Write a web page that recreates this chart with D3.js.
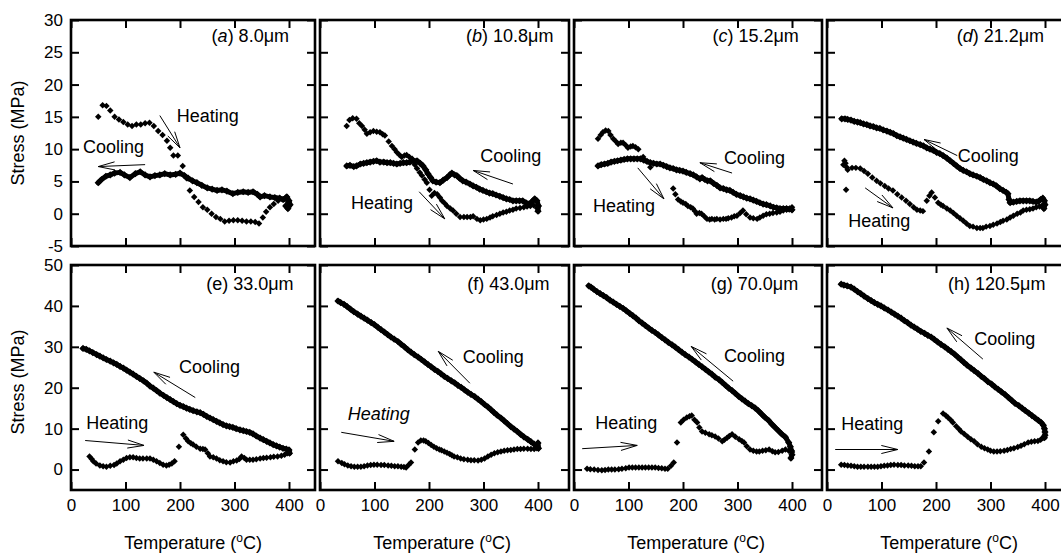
<!DOCTYPE html>
<html><head><meta charset="utf-8">
<script src="https://cdn.jsdelivr.net/npm/d3@7"></script>
<style>body{margin:0;background:#fff;}svg{display:block;font-family:"Liberation Sans",Arial,Helvetica,sans-serif;}</style>
</head><body><svg id="chart" width="1061" height="553"></svg>
<script>
// ---------------- DATA ----------------
const panelLetters = ["a","b","c","d","e","f","g","h"];
const panelThickness = ["8.0","10.8","15.2","21.2","33.0","43.0","70.0","120.5"];
const tempTicks = [0,100,200,300,400];
const stressTicksTop = [-5,0,5,10,15,20,25,30];
const stressTicksBottom = [0,10,20,30,40,50];

// [temperature °C, stress MPa]
const heatA = [[50,15.0],[58,16.8],[65,16.7],[72,16.0],[80,15.0],[88,14.6],[96,14.2],[104,13.8],[112,13.6],[120,13.8],[128,13.8],[136,14.0],[144,14.1],[152,13.6],[160,12.8],[168,12.2],[176,11.3],[182,10.2],[188,9.0],[196,9.0],[205,7.4],[212,5.5],[218,3.6],[226,2.6],[234,1.8],[242,1.0],[250,0.6],[258,0.0],[266,-0.5],[274,-0.8],[282,-1.2],[290,-1.1],[298,-1.0],[306,-1.0],[314,-1.1],[322,-1.2],[330,-1.2],[338,-1.3],[345,-1.5],[352,-0.6],[358,0.3],[365,1.0],[372,1.5],[380,2.0],[388,2.2],[394,2.5],[398,1.8],[400,1.2]];
const coolA = [[50,4.8],[56,5.3],[64,5.8],[72,6.0],[80,6.3],[90,6.4],[98,6.0],[108,5.6],[118,6.2],[127,6.5],[136,6.0],[145,5.7],[154,5.9],[163,6.0],[172,6.2],[182,6.0],[192,6.1],[200,6.3],[208,5.9],[215,5.5],[223,5.1],[231,4.8],[240,4.4],[250,4.0],[259,3.8],[268,3.6],[277,3.7],[286,3.5],[297,3.1],[306,3.3],[316,3.4],[325,3.3],[334,3.4],[342,3.0],[347,2.6],[355,2.8],[365,2.6],[374,2.5],[383,2.4],[390,2.2],[396,2.6],[400,2.0],[402,1.4],[398,0.8],[394,1.2]];

const heatB = [[49,13.6],[54,14.5],[60,14.8],[67,14.7],[72,14.0],[77,13.6],[82,13.0],[86,12.4],[92,12.6],[98,12.8],[104,12.7],[110,12.6],[115,12.3],[119,12.1],[126,11.2],[132,10.5],[137,10.0],[141,9.5],[146,9.1],[150,8.8],[155,9.0],[159,9.1],[164,8.8],[169,8.5],[174,7.6],[178,7.0],[183,6.4],[187,5.9],[192,5.3],[196,4.8],[201,3.7],[205,2.8],[210,3.2],[215,3.0],[220,2.5],[224,2.0],[229,1.6],[233,1.2],[239,0.8],[244,0.5],[250,0.0],[257,-0.5],[264,-0.5],[270,-0.5],[276,-0.5],[281,-0.4],[288,-0.8],[294,-1.0],[300,-0.9],[306,-0.8],[312,-0.6],[317,-0.4],[324,-0.2],[330,0.0],[336,0.2],[342,0.3],[348,0.5],[354,0.6],[360,0.8],[367,0.9],[374,1.0],[380,1.1],[386,1.2],[392,1.3],[398,0.9],[400,0.4]];
const coolB = [[49,7.4],[55,7.5],[62,7.3],[67,7.4],[74,7.7],[80,7.8],[86,7.9],[92,8.0],[98,8.1],[104,8.2],[110,8.0],[117,8.0],[123,7.9],[129,7.9],[135,7.8],[141,7.7],[147,7.8],[153,7.9],[159,7.9],[165,8.0],[171,8.2],[178,8.2],[184,7.8],[189,7.4],[194,6.8],[198,6.2],[203,5.6],[207,5.1],[213,4.9],[220,4.8],[226,5.2],[233,5.6],[238,6.0],[242,6.3],[247,6.0],[251,5.9],[256,5.5],[262,5.1],[268,4.9],[275,4.6],[281,4.3],[287,4.1],[293,3.8],[299,3.6],[305,3.4],[311,3.2],[317,3.1],[323,2.9],[330,2.7],[336,2.5],[342,2.3],[348,2.2],[354,2.0],[360,2.0],[366,2.0],[372,2.0],[378,1.7],[382,1.5],[388,1.8],[394,2.3],[398,2.0],[401,1.2],[400,0.4]];

const heatC = [[44,11.6],[49,12.2],[53,12.6],[58,12.9],[63,12.8],[67,12.2],[72,11.6],[77,11.2],[81,10.8],[86,11.0],[90,11.0],[95,10.6],[99,10.2],[104,10.4],[108,10.5],[113,10.3],[118,10.0],[127,8.8],[140,7.2],[182,3.9],[186,3.0],[191,2.2],[196,1.9],[200,1.7],[205,1.5],[209,1.2],[214,1.0],[218,0.8],[222,0.4],[225,0.0],[230,0.1],[234,0.0],[239,-0.4],[244,-0.8],[249,-0.9],[253,-0.8],[258,-0.9],[262,-0.8],[268,-0.9],[274,-0.8],[279,-0.8],[283,-0.7],[289,-0.6],[294,-0.4],[299,-0.3],[305,0.1],[310,0.5],[316,-0.1],[323,-0.6],[329,-0.7],[336,-0.8],[341,-0.6],[347,-0.3],[353,-0.1],[359,0.0],[365,0.1],[372,0.2],[378,0.3],[384,0.5],[390,0.6],[396,0.8],[400,1.0]];
const coolC = [[44,7.4],[50,7.6],[56,7.7],[62,7.8],[68,8.0],[74,8.1],[80,8.2],[86,8.3],[92,8.4],[98,8.5],[104,8.5],[110,8.5],[116,8.5],[122,8.5],[128,8.3],[134,8.1],[140,7.9],[146,7.8],[152,7.7],[158,7.7],[164,7.5],[170,7.3],[176,7.1],[182,7.0],[188,6.8],[194,6.7],[200,6.6],[206,6.4],[213,6.2],[219,6.0],[225,5.7],[231,5.4],[235,5.6],[240,5.3],[245,5.1],[250,5.1],[256,4.7],[262,4.4],[268,4.0],[274,3.9],[280,3.7],[286,3.6],[292,3.3],[298,3.0],[305,2.8],[311,2.6],[317,2.4],[323,2.3],[329,2.1],[335,1.9],[341,1.7],[347,1.5],[353,1.4],[360,1.2],[366,1.0],[372,0.9],[378,0.8],[384,0.8],[390,0.8],[395,0.7],[400,0.6]];

const heatD = [[30,7.6],[32,8.2],[34,7.8],[36,7.2],[38,6.8],[35,3.7],[46,7.1],[53,7.1],[61,7.0],[68,6.6],[75,6.2],[83,5.6],[91,5.1],[98,4.7],[106,4.3],[113,3.9],[121,3.6],[129,3.0],[137,2.5],[145,2.0],[152,1.5],[159,1.0],[165,0.6],[171,0.5],[176,0.4],[183,2.0],[188,2.8],[192,3.3],[198,2.5],[204,1.7],[209,1.4],[213,1.2],[220,0.8],[226,0.5],[232,0.1],[238,-0.3],[244,-0.7],[250,-1.1],[256,-1.5],[262,-1.9],[268,-2.0],[275,-2.2],[281,-2.2],[286,-2.2],[292,-2.0],[299,-1.9],[305,-1.7],[312,-1.5],[318,-1.3],[323,-1.1],[330,-0.9],[336,-0.6],[342,-0.3],[349,0.0],[355,0.2],[360,0.5],[366,0.6],[372,0.7],[378,0.8],[384,1.0],[390,1.1],[394,1.2],[398,1.4]];
const coolD = [[27,14.7],[33,14.7],[38,14.6],[44,14.5],[50,14.3],[56,14.2],[61,14.1],[67,13.9],[73,13.8],[79,13.6],[85,13.5],[91,13.3],[97,13.2],[103,13.0],[110,12.8],[116,12.6],[122,12.4],[128,12.1],[134,11.9],[140,11.7],[146,11.5],[152,11.3],[158,11.1],[164,10.9],[171,10.7],[177,10.5],[183,10.2],[189,10.0],[195,9.8],[201,9.5],[207,9.3],[213,9.0],[220,8.6],[226,8.2],[232,7.8],[238,7.4],[244,7.0],[250,6.7],[256,6.5],[262,6.2],[268,6.0],[275,5.8],[281,5.6],[287,5.3],[293,5.1],[299,4.8],[305,4.6],[311,4.3],[317,3.9],[323,3.6],[329,3.3],[332,3.1],[334,2.2],[336,1.7],[342,1.8],[348,1.9],[354,2.0],[360,2.0],[366,2.0],[372,2.0],[378,1.9],[384,1.8],[388,1.9],[392,2.2],[396,2.4],[399,2.0],[400,1.4],[398,0.8]];

const heatE = [[34,3.2],[38,2.6],[41,2.0],[46,1.5],[53,1.0],[59,0.8],[65,0.7],[72,0.9],[79,1.1],[84,1.5],[90,2.0],[96,2.4],[102,2.8],[108,3.0],[114,3.0],[120,2.8],[126,2.7],[132,2.7],[139,2.7],[145,2.7],[151,2.4],[157,2.0],[163,1.6],[169,1.2],[175,1.0],[180,1.2],[185,1.5],[190,2.0],[198,5.6],[206,8.5],[211,7.6],[215,6.9],[220,6.4],[224,6.1],[230,5.6],[237,5.1],[242,5.0],[246,4.9],[251,4.0],[255,3.2],[261,3.0],[267,2.7],[273,2.3],[279,2.0],[285,1.8],[292,1.7],[298,2.0],[304,2.2],[309,2.6],[313,3.2],[318,2.8],[322,2.4],[328,2.4],[334,2.4],[340,2.5],[347,2.7],[353,2.8],[359,2.9],[366,3.0],[372,3.1],[379,3.2],[386,3.4],[392,3.6],[397,4.0],[400,4.5]];
const coolE = [[22,29.6],[28,29.4],[34,29.0],[40,28.6],[47,28.1],[53,27.7],[59,27.3],[65,26.9],[72,26.5],[78,26.1],[84,25.7],[90,25.2],[96,24.8],[102,24.3],[108,23.8],[114,23.3],[120,22.8],[126,22.3],[133,21.7],[139,21.1],[145,20.4],[151,19.9],[157,19.3],[163,18.7],[170,18.1],[176,17.6],[182,17.1],[188,16.6],[194,16.1],[200,15.7],[206,15.4],[212,15.0],[218,14.7],[224,14.4],[231,14.1],[237,13.9],[243,13.5],[249,13.0],[255,12.6],[261,12.2],[267,11.8],[273,11.4],[279,11.0],[285,10.7],[291,10.5],[297,10.3],[303,10.0],[310,9.7],[316,9.5],[322,9.3],[328,9.1],[334,8.7],[340,8.2],[347,7.7],[353,7.3],[359,6.9],[365,6.5],[371,6.1],[377,5.8],[383,5.5],[389,5.2],[395,5.0],[400,4.8],[401,4.0]];

const heatF = [[33,2.0],[40,1.6],[45,1.3],[51,1.0],[57,0.8],[63,0.7],[69,0.7],[75,0.7],[81,0.8],[87,1.0],[93,1.1],[99,1.2],[105,1.2],[112,1.1],[118,1.1],[125,1.0],[131,0.9],[137,0.8],[143,0.8],[149,0.7],[154,0.6],[158,0.5],[163,1.2],[167,1.7],[174,4.9],[180,6.6],[185,7.1],[190,7.1],[194,6.9],[199,6.5],[204,6.0],[209,5.6],[214,5.2],[219,4.9],[223,4.7],[228,4.4],[233,4.1],[238,3.8],[242,3.5],[246,3.2],[252,3.0],[258,2.7],[264,2.5],[271,2.4],[277,2.3],[283,2.3],[290,2.2],[296,2.4],[302,2.7],[308,3.2],[314,3.6],[320,4.0],[326,4.2],[332,4.4],[338,4.6],[344,4.7],[350,4.8],[356,4.9],[362,5.0],[368,5.0],[374,5.1],[381,5.1],[387,5.0],[393,5.0],[398,5.2]];
const coolF = [[33,41.2],[38,40.8],[44,40.4],[50,39.8],[56,39.2],[62,38.6],[69,38.0],[75,37.5],[81,37.0],[87,36.5],[94,35.9],[100,35.4],[106,34.8],[112,34.2],[118,33.6],[124,33.0],[130,32.4],[136,31.9],[143,31.3],[149,30.6],[155,30.0],[161,29.3],[167,28.7],[173,28.1],[180,27.5],[186,26.9],[192,26.3],[198,25.7],[204,25.1],[210,24.5],[216,24.0],[222,23.4],[228,22.8],[234,22.3],[241,21.7],[247,21.2],[253,20.6],[259,20.1],[265,19.5],[271,18.9],[277,18.4],[284,17.8],[290,17.2],[296,16.6],[302,15.9],[308,15.3],[314,14.6],[319,14.0],[325,13.3],[332,12.6],[338,11.9],[344,11.2],[350,10.5],[356,9.9],[362,9.3],[368,8.6],[374,8.0],[381,7.4],[387,6.8],[393,6.2],[398,5.8],[401,5.2],[400,6.5]];

const heatG = [[24,0.2],[30,0.1],[37,0.0],[44,-0.1],[51,-0.2],[57,-0.1],[63,0.0],[69,0.0],[75,0.0],[82,0.1],[88,0.2],[95,0.3],[101,0.5],[107,0.5],[113,0.5],[119,0.5],[125,0.5],[131,0.5],[137,0.5],[143,0.5],[149,0.5],[155,0.4],[161,0.3],[167,0.2],[172,0.2],[178,0.9],[183,1.7],[189,6.6],[196,11.5],[201,12.2],[207,12.7],[212,13.0],[216,13.2],[221,12.2],[226,11.5],[230,10.3],[235,9.3],[241,9.0],[248,8.6],[253,8.4],[259,8.1],[265,7.6],[272,6.9],[276,7.3],[281,7.8],[285,8.2],[290,8.6],[296,8.0],[303,7.4],[308,7.0],[312,6.6],[317,5.7],[323,4.9],[329,4.6],[335,4.4],[340,4.4],[346,4.6],[352,4.7],[358,4.9],[364,4.5],[369,4.2],[375,4.3],[382,4.6],[388,4.9],[394,4.6],[400,4.3]];
const coolG = [[27,44.9],[31,44.6],[36,44.1],[42,43.5],[48,43.0],[54,42.5],[60,42.0],[66,41.4],[72,40.9],[78,40.4],[84,39.9],[90,39.4],[96,38.8],[102,38.2],[108,37.6],[114,37.0],[119,36.4],[125,35.8],[131,35.2],[137,34.6],[143,34.0],[149,33.5],[155,32.9],[161,32.3],[167,31.7],[173,31.1],[180,30.5],[186,29.9],[192,29.3],[198,28.7],[204,28.1],[211,27.5],[217,26.9],[223,26.3],[229,25.7],[235,25.1],[241,24.5],[247,23.9],[253,23.3],[259,22.6],[266,22.0],[272,21.3],[278,20.6],[284,19.9],[290,19.3],[296,18.6],[302,17.9],[308,17.3],[314,16.7],[320,16.1],[326,15.6],[332,15.1],[338,14.4],[344,13.6],[350,12.8],[357,12.0],[363,11.1],[369,10.3],[375,9.5],[381,8.7],[388,7.9],[394,6.6],[397,5.6],[399,4.6],[400,3.6],[398,2.8]];

const heatH = [[26,1.2],[32,1.1],[38,1.0],[44,0.9],[50,0.8],[56,0.7],[62,0.7],[68,0.7],[75,0.7],[81,0.7],[87,0.7],[93,0.7],[99,0.8],[105,0.9],[111,1.0],[117,1.1],[123,1.2],[130,1.1],[136,1.1],[142,1.0],[149,1.0],[155,0.9],[161,0.8],[167,0.8],[172,0.8],[178,1.7],[187,4.4],[196,9.1],[204,11.8],[213,13.7],[218,13.2],[222,12.7],[227,12.1],[231,11.5],[237,10.6],[242,9.9],[246,9.3],[252,8.7],[258,8.0],[264,7.4],[270,6.9],[276,6.2],[283,5.6],[289,5.2],[295,4.9],[300,4.6],[306,4.4],[312,4.4],[318,4.5],[325,4.6],[331,4.8],[337,5.0],[343,5.2],[350,5.5],[356,5.8],[362,6.2],[369,6.6],[375,6.8],[381,6.9],[387,7.0],[392,7.3],[396,7.7],[398,8.1]];
const coolH = [[26,45.3],[31,45.1],[37,44.9],[44,44.6],[50,44.1],[56,43.5],[62,43.0],[68,42.4],[75,41.8],[81,41.3],[87,40.8],[93,40.4],[99,40.0],[105,39.5],[112,39.0],[118,38.5],[124,38.0],[130,37.5],[136,37.0],[142,36.4],[148,35.9],[154,35.3],[160,34.8],[166,34.3],[172,33.8],[179,33.3],[185,32.8],[191,32.4],[197,31.8],[203,31.2],[209,30.6],[216,30.0],[222,29.4],[228,28.8],[234,28.2],[240,27.5],[246,26.8],[251,26.2],[257,25.5],[264,24.8],[270,24.2],[277,23.5],[283,22.8],[289,22.2],[295,21.5],[302,20.9],[308,20.2],[314,19.6],[320,19.0],[327,18.3],[333,17.6],[339,16.9],[345,16.2],[352,15.6],[358,15.0],[364,14.4],[370,13.8],[376,13.2],[382,12.6],[388,12.0],[393,11.5],[397,10.8],[399,10.0],[400,9.2],[400,8.4],[399,7.8]];

const heatingSeries = [heatA,heatB,heatC,heatD,heatE,heatF,heatG,heatH];
const coolingSeries = [coolA,coolB,coolC,coolD,coolE,coolF,coolG,coolH];

// ---------------- LAYOUT / ANNOTATIONS (data units) ----------------
const lefts = [71,320,574,827];
const rights = [315,569,822,1069];
const rowSpec = [
  {top:20, bottom:246, domain:[-5,30], ticks:stressTicksTop},
  {top:265, bottom:490, domain:[-5,50], ticks:stressTicksBottom}
];
// label start temperature, stress baseline
const labelPos = [[258,26.6],[268,26.6],[254,26.6],[238,26.6],[248,43.9],[270,43.9],[251,43.9],[222,43.9]];
// annotation: text [T, S], arrow from [T,S] to [T,S]
const cooling = [
  {t:[22,9.4], a:[[136,7.6],[50,7.3]]},
  {t:[294,8.0], a:[[354,4.6],[281,6.7]]},
  {t:[275,7.7], a:[[290,6.3],[231,7.9]]},
  {t:[240,8.0], a:[[239,9.0],[178,11.5]]},
  {t:[198,23.5], a:[[228,17.6],[152,23.8]]},
  {t:[262,26.0], a:[[275,21.1],[217,28.9]]},
  {t:[275,26.2], a:[[292,21.6],[215,30.1]]},
  {t:[270,30.4], a:[[286,27.0],[220,34.6]]}
];
const heating = [
  {t:[194,14.2], a:[[163,15.2],[200,10.2]]},
  {t:[57,0.8], a:[[182,3.4],[229,-0.8]]},
  {t:[35,0.3], a:[[117,7.1],[165,2.3]]},
  {t:[39,-2.0], a:[[70,4.0],[121,0.9]]},
  {t:[28,10.0], a:[[26,7.1],[134,5.9]]},
  {t:[51,12.0], a:[[39,9.1],[136,6.9]], italic:true},
  {t:[39,10.0], a:[[15,5.1],[116,5.9]]},
  {t:[26,9.6], a:[[15,4.9],[130,4.9]]}
];

// ---------------- DRAW ----------------
const svg = d3.select("#chart");
const fnt = "'Liberation Sans',Arial,sans-serif";
const diamond = d3.symbol().type(d3.symbolSquare);

function arrow(g, x1, y1, x2, y2) {
  const ang = Math.atan2(y2 - y1, x2 - x1);
  const L = 17, spread = 0.24;
  const p = "M" + x1 + "," + y1 + "L" + x2 + "," + y2 +
    "M" + (x2 - L*Math.cos(ang - spread)) + "," + (y2 - L*Math.sin(ang - spread)) + "L" + x2 + "," + y2 +
    "L" + (x2 - L*Math.cos(ang + spread)) + "," + (y2 - L*Math.sin(ang + spread));
  g.append("path").attr("d", p).attr("fill","none").attr("stroke","#000").attr("stroke-width",1);
}

for (let i = 0; i < 8; i++) {
  const row = Math.floor(i / 4), col = i % 4;
  const rs = rowSpec[row];
  const left = lefts[col], right = rights[col];
  const x = d3.scaleLinear().domain([0,400]).range([left, left + 218]);
  const y = d3.scaleLinear().domain(rs.domain).range([rs.bottom, rs.top]);
  const g = svg.append("g");

  const styleAxis = sel => {
    sel.select(".domain").remove();
    sel.selectAll(".tick line").attr("stroke-width", 2);
    sel.selectAll("text").attr("font-size", 17).attr("fill","#000").attr("font-family", fnt);
  };
  const bottomAx = d3.axisBottom(x).tickValues(tempTicks).tickSize(-8).tickPadding(9).tickFormat(d => String(d));
  if (row === 0) bottomAx.tickFormat("");
  g.append("g").attr("transform", `translate(0,${rs.bottom})`).call(bottomAx).call(styleAxis);
  g.append("g").attr("transform", `translate(0,${rs.top})`).call(d3.axisTop(x).tickValues(tempTicks).tickSize(-8).tickFormat("")).call(styleAxis);
  const leftAx = d3.axisLeft(y).tickValues(rs.ticks).tickSize(-8).tickPadding(8).tickFormat(d => String(d));
  if (col !== 0) leftAx.tickFormat("");
  g.append("g").attr("transform", `translate(${left},0)`).call(leftAx).call(styleAxis);
  g.append("g").attr("transform", `translate(${right},0)`).call(d3.axisRight(y).tickValues(rs.ticks).tickSize(-8).tickFormat("")).call(styleAxis);

  g.append("rect").attr("x", left).attr("y", rs.top).attr("width", right - left).attr("height", rs.bottom - rs.top)
    .attr("fill","none").attr("stroke","#000").attr("stroke-width",2.6);

  const cool = coolingSeries[i];
  g.append("path").datum(cool)
    .attr("d", d3.line().x(d => x(d[0])).y(d => y(d[1])))
    .attr("fill","none").attr("stroke","#000").attr("stroke-width",5).attr("stroke-linejoin","round").attr("stroke-linecap","round");
  g.selectAll(".cool").data(cool).join("path")
    .attr("d", diamond.size(26)())
    .attr("transform", d => `translate(${x(d[0])},${y(d[1])}) rotate(45)`)
    .attr("fill","#000");

  const heat = heatingSeries[i];
  g.selectAll(".heat").data(heat).join("path")
    .attr("d", diamond.size(21)())
    .attr("transform", d => `translate(${x(d[0])},${y(d[1])}) rotate(45)`)
    .attr("fill","#000");

  const c = cooling[i], h = heating[i];
  g.append("text").attr("x", x(c.t[0])).attr("y", y(c.t[1])).attr("font-size",18).attr("font-family",fnt).text("Cooling");
  arrow(g, x(c.a[0][0]), y(c.a[0][1]), x(c.a[1][0]), y(c.a[1][1]));
  g.append("text").attr("x", x(h.t[0])).attr("y", y(h.t[1])).attr("font-size",18).attr("font-family",fnt)
    .attr("font-style", h.italic ? "italic" : "normal").text("Heating");
  arrow(g, x(h.a[0][0]), y(h.a[0][1]), x(h.a[1][0]), y(h.a[1][1]));

  const lt = g.append("text").attr("x", x(labelPos[i][0])).attr("y", y(labelPos[i][1])).attr("font-size",18).attr("font-family",fnt);
  lt.append("tspan").text("(");
  lt.append("tspan").attr("font-style", row === 0 ? "italic" : "normal").text(panelLetters[i]);
  lt.append("tspan").text(") " + panelThickness[i] + "\u03bcm");

  if (row === 1) {
    const xt = g.append("text").attr("x", x(224)).attr("y", 549).attr("text-anchor","middle").attr("font-size",18).attr("font-family",fnt);
    xt.append("tspan").text("Temperature (");
    xt.append("tspan").attr("font-size",12).attr("dy",-7).text("o");
    xt.append("tspan").attr("dy",7).text("C)");
  }
}

[133, 382].forEach(cy => {
  svg.append("text").attr("transform", `translate(24,${cy}) rotate(-90)`).attr("text-anchor","middle")
    .attr("font-size",18).attr("font-family",fnt).text("Stress (MPa)");
});
</script></body></html>
